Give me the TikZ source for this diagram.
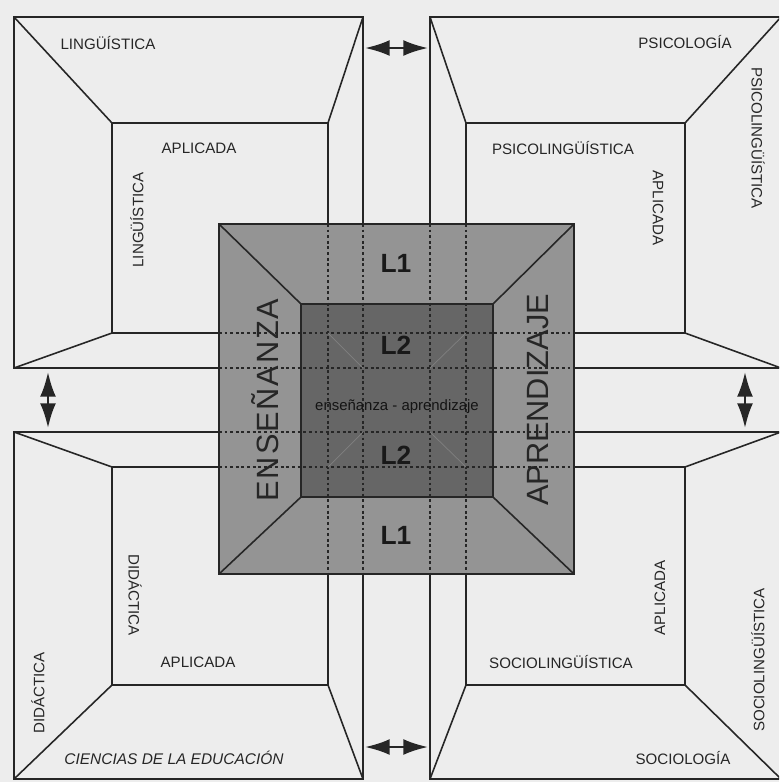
\documentclass[tikz,border=0pt]{standalone}
\usepackage{fontspec}
\setmainfont{Liberation Sans}
\usetikzlibrary{arrows.meta}

\begin{document}
\begin{tikzpicture}[
    x=0.02cm, y=-0.02cm,
    wall/.style={draw=black!85, line width=0.9pt},
    hidden/.style={draw=black!85, line width=0.6pt, dash pattern=on 1.6pt off 1.6pt},
    ghost/.style={draw=black!50, line width=0.4pt},
    twoway/.style={{Latex[length=14pt,width=9pt]}-{Latex[length=14pt,width=9pt]}, line width=1.3pt, black!85},
    lbl/.style={font=\fontsize{8.6}{10}\selectfont, text=black!85, inner sep=0pt},
    side/.style={font=\fontsize{17.5}{20}\selectfont, text=black!85, inner sep=0pt, rotate=90},
    lvl/.style={font=\bfseries\fontsize{15}{18}\selectfont, text=black!90, inner sep=0pt}
]
\clip (0,0) rectangle (779,782);
\fill[black!7] (0,0) rectangle (779,782);

% the four rooms
\foreach \ox/\oy/\oX/\oY/\ix/\iy/\iX/\iY in {14/17/363/368/112/123/328/333, 430/17/781/368/466/123/685/333, 14/432/363/779/112/467/328/685, 430/432/781/779/466/467/685/685}
{
  \draw[wall] (\ox,\oy) rectangle (\oX,\oY) (\ix,\iy) rectangle (\iX,\iY);
  \draw[wall] (\ox,\oy) -- (\ix,\iy) (\oX,\oy) -- (\iX,\iy) (\oX,\oY) -- (\iX,\iY) (\ox,\oY) -- (\ix,\iY);
}

% central block
\draw[wall, line width=0.7pt, fill=black!42] (219,224) rectangle (574,574);
\draw[wall, line width=1.2pt, fill=black!60] (301,304) rectangle (493,497);
\draw[wall] (219,224) -- (301,304) (574,224) -- (493,304) (574,574) -- (493,497) (219,574) -- (301,497);

% hidden edges
\foreach \v in {328,363,430,466}
  \draw[hidden] (\v,224) -- (\v,574);
\foreach \h in {333,368,432,467}
  \draw[hidden] (219,\h) -- (574,\h);
\draw[ghost] (328,333) -- (363,368) (466,333) -- (430,368) (328,467) -- (363,432) (466,467) -- (430,432);

% arrows between rooms
\coordinate (topL) at (365,48);
\coordinate (topR) at (428,48);
\coordinate (botL) at (365,747);
\coordinate (botR) at (428,747);
\coordinate (leftT) at (48,372);
\coordinate (leftB) at (48,428);
\coordinate (rightT) at (745,372);
\coordinate (rightB) at (745,428);
\foreach \a/\b in {topL/topR, botL/botR, leftT/leftB, rightT/rightB}
  \draw[twoway] (\a) -- (\b);

% labels
\node[lbl] (lingT) at (108,43) {LINGÜÍSTICA};
\node[lbl] (aplTL) at (199,148) {APLICADA};
\node[lbl, rotate=90] (lingV) at (137,220) {LINGÜÍSTICA};
\node[lbl] (psico) at (685,42) {PSICOLOGÍA};
\node[lbl] (psling) at (563,148) {PSICOLINGÜÍSTICA};
\node[lbl, rotate=-90] (aplTR) at (658,208) {APLICADA};
\node[lbl, rotate=-90] (pslingV) at (758,138) {PSICOLINGÜÍSTICA};
\node[lbl, rotate=-90] (didV) at (135,595) {DIDÁCTICA};
\node[lbl, rotate=90] (didO) at (38,693) {DIDÁCTICA};
\node[lbl] (aplBL) at (198,662) {APLICADA};
\node[lbl, font=\fontsize{8.8}{10}\selectfont\itshape] (cienc) at (174,758) {CIENCIAS DE LA EDUCACIÓN};
\node[lbl] (socling) at (561,662) {SOCIOLINGÜÍSTICA};
\node[lbl, rotate=90] (aplBR) at (660,598) {APLICADA};
\node[lbl, rotate=90] (soclingV) at (758,660) {SOCIOLINGÜÍSTICA};
\node[lbl] (socio) at (683,758) {SOCIOLOGÍA};

\node[side, font=\fontsize{17.5}{20}\selectfont\addfontfeature{LetterSpace=6}] (ens) at (265,400) {ENSEÑANZA};
\node[side] (apr) at (538,400) {APRENDIZAJE};
\node[lvl] (l1t) at (396,263) {L1};
\node[lvl] (l2t) at (396,345) {L2};
\node[lvl] (l2b) at (396,455) {L2};
\node[lvl] (l1b) at (396,535) {L1};
\node[font=\fontsize{8.5}{10}\selectfont, text=black!92, inner sep=0pt] (ea) at (397,407) {enseñanza - aprendizaje};
\end{tikzpicture}
\end{document}
